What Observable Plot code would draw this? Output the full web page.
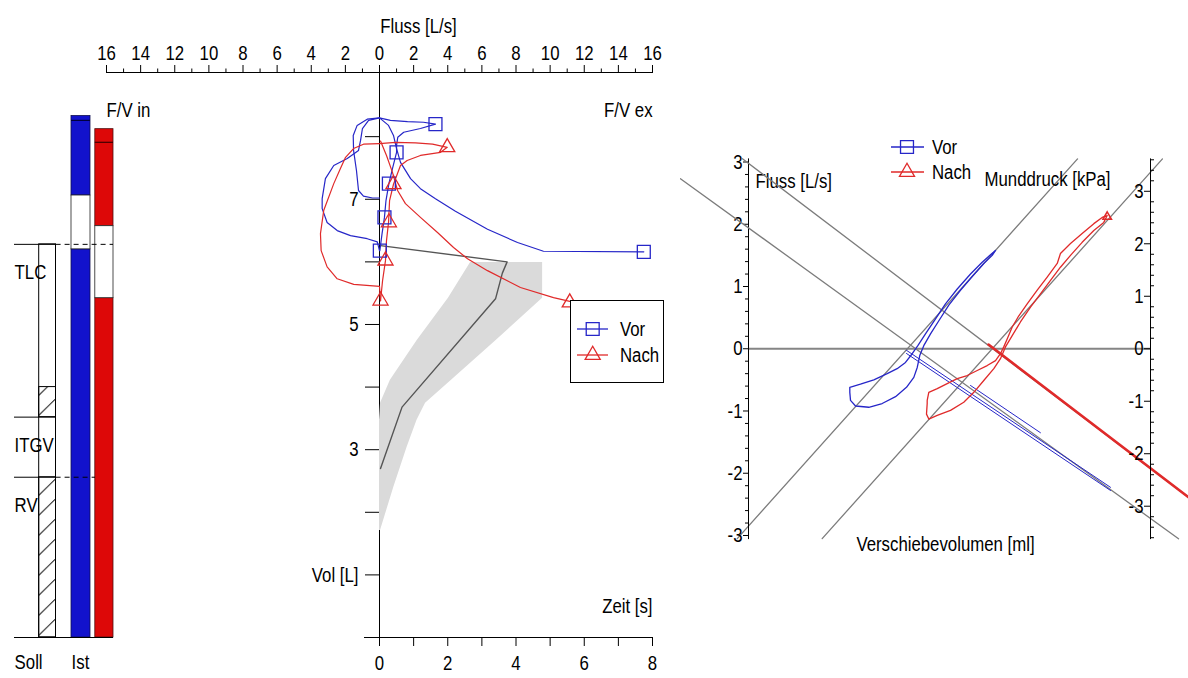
<!DOCTYPE html>
<html lang="de">
<head>
<meta charset="utf-8">
<title>Fluss-Volumen, Spirogramm und Resistance-Schleifen</title>
<script src="https://cdn.jsdelivr.net/npm/d3@7"></script>
<script src="https://cdn.jsdelivr.net/npm/@observablehq/plot@0.6"></script>
<style>
  html, body { margin: 0; padding: 0; background: #fff; }
  #page { position: relative; width: 1188px; height: 678px; overflow: hidden; background: #fff; }
  #page svg { position: absolute; top: 0; background: transparent !important; max-width: none !important; }
  #page svg.legend { overflow: visible; }
</style>
</head>
<body>
<div id="page"></div>
<script>
// ---------------- data ----------------
// lung volume columns (L)
const sollNames = ["TLC", "ITGV", "RV"];
const sollVolumes = [6.28, 3.52, 2.56];
const sollItgvUpper = 4.00;                 // upper edge of the hatched ITGV range
const columnNames = ["Soll", "Ist"];
const vorLevels = [6.20, 7.06, 8.33];       // lower block top, open block top, column top
const nachLevels = [5.42, 6.57, 8.12];
const vorCap = 8.26, nachCap = 7.91;

// axis ticks
const flowTicks = [-16, -14, -12, -10, -8, -6, -4, -2, 0, 2, 4, 6, 8, 10, 12, 14, 16];
const volTicks = [1, 2, 3, 4, 5, 6, 7, 8];
const timeTicks = [0, 1, 2, 3, 4, 5, 6, 7, 8];
const loopFlowTicks = [-3, -2, -1, 0, 1, 2, 3];
const mouthPressureTicks = [-3, -2, -1, 0, 1, 2, 3];

// flow-volume curves: [flow L/s, volume L]
const vorInspiration = [[0,6.18],[-0.13,6.32],[-0.72,6.37],[-1.70,6.42],[-2.48,6.50],[-3.07,6.63],[-3.36,6.85],[-3.36,7.01],[-3.17,7.33],[-2.68,7.54],[-1.89,7.65],[-1.23,7.78],[-1.11,7.94],[-1.00,8.13],[-0.64,8.26],[0,8.30]];
const vorInnerLoop = [[0,8.30],[-0.72,8.28],[-1.31,8.18],[-1.54,8.02],[-1.52,7.78],[-1.35,7.46],[-1.23,7.14],[-0.94,7.05],[-0.41,7.02],[0,7.02]];
const vorTopLobe = [[0,8.30],[0.64,8.26],[1.64,8.24],[2.58,8.23],[3.28,8.20],[2.40,8.13],[1.42,8.07],[1.07,7.99],[1.00,7.86],[1.00,7.75],[0.76,7.49],[0.55,7.25],[0.38,6.98],[0.29,6.71],[0.15,6.45],[0.02,6.18]];
const vorExpiration = [[0,8.30],[0.53,8.18],[0.82,8.02],[1.00,7.81],[1.23,7.59],[1.82,7.33],[2.40,7.17],[3.28,7.01],[4.45,6.81],[6.33,6.52],[8.09,6.31],[9.61,6.17],[15.49,6.16]];
const vorMarkers = [[3.28,8.20],[1.00,7.75],[0.55,7.25],[0.29,6.71],[0.02,6.18],[15.49,6.16]];

const nachInspiration = [[0,7.89],[-0.94,7.88],[-1.52,7.81],[-1.99,7.67],[-2.29,7.49],[-2.68,7.25],[-3.27,6.82],[-3.46,6.45],[-3.42,6.18],[-3.07,5.92],[-2.48,5.73],[-1.51,5.64],[0,5.61],[0.06,5.38]];
const nachTopLobe = [[0,7.89],[0.94,7.91],[2.11,7.90],[3.11,7.88],[3.97,7.83],[3.58,7.75],[2.40,7.70],[1.62,7.62],[1.23,7.54],[0.82,7.24],[0.59,6.98],[0.53,6.63],[0.41,6.34],[0.35,6.02],[0.18,5.70],[0.06,5.38]];
const nachExpiration = [[0.06,7.93],[0.41,7.70],[0.76,7.43],[1.06,7.14],[1.52,6.93],[2.40,6.71],[3.40,6.47],[4.34,6.23],[5.16,6.05],[6.33,5.86],[8.26,5.59],[10.20,5.43],[11.15,5.37]];
const nachMarkers = [[3.97,7.83],[0.82,7.24],[0.55,6.63],[0.35,6.02],[0.06,5.38],[11.15,5.35]];

// volume-time: measured curve and predicted range
const spiroTime = [0.03, 3.74, 3.60, 3.40, 0.66, 0.03];
const spiroVol  = [6.26, 6.00, 5.82, 5.41, 3.68, 2.70];
const bandVol  = [5.99, 5.42, 4.74, 4.11, 3.74, 3.47, 3.04, 2.40, 1.71];
const bandTMin = [2.67, 2.02, 1.10, 0.32, 0.03, 0, 0, 0, 0];
const bandTMax = [4.78, 4.78, 3.41, 2.11, 1.35, 1.10, 0.81, 0.42, 0.03];

// resistance loops: [shift volume ml, flow L/s]
const vorLoop = [[-9.92,-0.62],[-8.86,-0.57],[-7.53,-0.50],[-6.20,-0.40],[-5.21,-0.32],[-4.38,-0.22],[-3.71,-0.08],[-3.15,0.05],[-2.39,0.24],[-1.39,0.48],[-0.40,0.72],[0.77,0.96],[2.09,1.20],[3.25,1.39],[4.08,1.51],[4.58,1.58],[4.25,1.50],[3.41,1.37],[2.26,1.16],[1.09,0.94],[-0.07,0.70],[-1.06,0.45],[-1.89,0.24],[-2.56,0.05],[-2.96,-0.11],[-3.21,-0.30],[-3.55,-0.46],[-4.28,-0.62],[-5.37,-0.77],[-6.70,-0.88],[-8.03,-0.94],[-9.35,-0.92],[-9.85,-0.83],[-9.92,-0.70],[-9.92,-0.62]];
const nachLoop = [[-2.22,-0.83],[-2.06,-0.70],[-1.22,-0.64],[-0.23,-0.56],[0.77,-0.48],[1.76,-0.43],[2.76,-0.35],[3.75,-0.27],[4.58,-0.19],[5.07,-0.08],[5.40,0.03],[5.75,0.16],[6.24,0.35],[6.90,0.53],[7.73,0.72],[8.73,0.94],[9.72,1.15],[10.72,1.37],[11.04,1.53],[12.04,1.69],[13.20,1.85],[14.36,2.01],[15.19,2.11],[15.69,2.14],[15.35,2.03],[14.36,1.90],[13.20,1.71],[12.04,1.50],[11.04,1.31],[10.05,1.10],[9.05,0.88],[8.06,0.67],[7.06,0.43],[6.24,0.21],[5.57,0.03],[5.07,-0.16],[4.41,-0.32],[3.41,-0.51],[2.42,-0.70],[1.42,-0.86],[0.10,-0.99],[-1.22,-1.07],[-2.06,-1.13],[-2.29,-1.05],[-2.22,-0.88],[-2.22,-0.83]];
const nachLoopEnd = [[15.69,2.12]];
// fitted resistance lines: [shift volume ml, flow L/s]
const vorResistanceFit = [[-21.12,-3.05],[12.74,3.05]];
const nachResistanceFit = [[-12.67,-3.05],[21.19,3.05]];
// occlusion traces and fits: [shift volume ml, mouth pressure kPa]
const vorOcclusion = [[-4.28,-0.03],[16.02,-2.64]];
const vorOcclusion2 = [[-4.28,-0.09],[16.02,-2.70]];
const vorOcclusion3 = [[2.09,-0.70],[9.05,-1.60]];
const nachOcclusion = [[3.88,0.08],[23.78,-2.83]];
const vorPressureFit = [[-26.77,3.24],[22.79,-3.62]];
const nachPressureFit = [[-20.60,3.62],[23.78,-2.83]];

// ---------------- styling ----------------
const W = 1188, H = 678;
const FONT = `"Liberation Sans",Arial,sans-serif`;
const SQUEEZE = 0.8;   // narrow lettering
const BLUE = "#2626c8", RED = "#e02a2a", BAR_BLUE = "#1212cc", BAR_RED = "#dd0808";
const GREY_LINE = "#7c7c7c";
const baseStyle = {fontFamily: FONT, fontSize: "21px", background: "transparent", color: "black"};
const volDomain = [0, 9.025];
const volMargins = {marginTop: 72, marginBottom: 41};
const page = document.getElementById("page");
function place(svg, left) { svg.style.left = left + "px"; page.append(svg); return svg; }
const pairs = {x: d => d[0], y: d => d[1]};

// ---------------- lung volume columns ----------------
const TLC = sollVolumes[0], ITGV = sollVolumes[1], RV = sollVolumes[2];
const segs = (levels) => [
  {lo: 0, hi: levels[0], open: false},
  {lo: levels[0], hi: levels[1], open: true},
  {lo: levels[1], hi: levels[2], open: false}
];
const sollInset = {insetLeft: 24.7, insetRight: 0.5};
const vorInset = {insetRight: 23};
const nachInset = {insetLeft: 23.8};
const svgL = Plot.plot({
  width: 130, height: H, marginLeft: 14, marginRight: 17, ...volMargins,
  x: {type: "band", domain: columnNames, paddingInner: 0.27, paddingOuter: 0, axis: null},
  y: {domain: volDomain, axis: null},
  style: baseStyle,
  marks: [
    Plot.barY([{lo: 0, hi: RV}, {lo: ITGV, hi: sollItgvUpper}], {x: () => "Soll", y1: "lo", y2: "hi", fill: "url(#soll-hatch)", stroke: "black", ...sollInset}),
    Plot.barY([{lo: 0, hi: TLC}], {x: () => "Soll", y1: "lo", y2: "hi", fill: "none", stroke: "black", ...sollInset}),
    // measured columns
    Plot.barY(segs(vorLevels).filter(d => !d.open), {x: () => "Ist", y1: "lo", y2: "hi", fill: BAR_BLUE, stroke: "#101050", strokeWidth: 0.8, ...vorInset}),
    Plot.barY(segs(vorLevels).filter(d => d.open), {x: () => "Ist", y1: "lo", y2: "hi", fill: "white", stroke: "#222", strokeWidth: 0.8, ...vorInset}),
    Plot.barY(segs(nachLevels).filter(d => !d.open), {x: () => "Ist", y1: "lo", y2: "hi", fill: BAR_RED, stroke: "#501010", strokeWidth: 0.8, ...nachInset}),
    Plot.barY(segs(nachLevels).filter(d => d.open), {x: () => "Ist", y1: "lo", y2: "hi", fill: "white", stroke: "#222", strokeWidth: 0.8, ...nachInset}),
    Plot.tickY([vorCap], {x: () => "Ist", stroke: "#000040", strokeWidth: 1.2, ...vorInset}),
    Plot.tickY([nachCap], {x: () => "Ist", stroke: "#400000", strokeWidth: 1.2, ...nachInset}),
    // reference levels
    Plot.tickY([TLC, ITGV, RV], {x: () => "Soll", stroke: "black"}),
    Plot.tickY([TLC], {x: () => "Ist", insetLeft: -15.4, stroke: "black", strokeDasharray: "5,4"}),
    Plot.tickY([RV], {x: () => "Ist", insetLeft: -15.4, insetRight: 18, stroke: "black", strokeDasharray: "5,4"}),
    Plot.ruleY([0], {stroke: "black"}),
    Plot.text(sollNames.map((n, i) => ({n, v: sollVolumes[i]})), {x: () => "Soll", y: "v", text: "n", textAnchor: "start", dx: -20.9, dy: 28}),
    Plot.text(columnNames, {x: d => d, y: () => 0, text: d => d, textAnchor: "start", dx: -20.9, dy: 25})
  ]
});
place(svgL, 0);
{
  const colLeft = svgL.scale("x").apply("Soll") + sollInset.insetLeft;
  const colW = svgL.scale("x").bandwidth - sollInset.insetLeft - sollInset.insetRight;
  const base = svgL.scale("y").apply(0);
  const pat = d3.select(svgL).insert("defs", ":first-child").append("pattern")
    .attr("id", "soll-hatch").attr("patternUnits", "userSpaceOnUse")
    .attr("x", colLeft).attr("y", base).attr("width", colW + 0.5).attr("height", 20);
  pat.append("rect").attr("width", colW + 0.5).attr("height", 20).attr("fill", "white");
  pat.append("line").attr("x1", 0).attr("y1", 18.5).attr("x2", colW).attr("y2", 2)
    .attr("stroke", "black").attr("stroke-width", 1);
}

// ---------------- volume-time (spirogram) ----------------
const spiro = spiroTime.map((t, i) => ({t, v: spiroVol[i]}));
const band = bandVol.map((v, i) => ({v, lo: bandTMin[i], hi: bandTMax[i]}));
const volLabel = d => d === 1 ? "Vol [L]" : (d % 2 ? String(d) : "");
const svgT = Plot.plot({
  width: W, height: H, marginLeft: 379, marginRight: 536, ...volMargins,
  x: {domain: [0, 8]}, y: {domain: volDomain},
  style: baseStyle,
  marks: [
    Plot.ruleX([0], {stroke: "black"}),
    Plot.areaX(band, {y: "v", x1: "lo", x2: "hi", fill: "#dadada"}),
    Plot.line(spiro, {x: "t", y: "v", stroke: "#555", strokeWidth: 1.4}),
    Plot.axisY(volTicks, {anchor: "left", tickSize: 14, tickPadding: 7, tickFormat: volLabel, label: null}),
    Plot.ruleY([0], {insetLeft: -15, stroke: "black"}),
    Plot.axisX(timeTicks, {anchor: "bottom", tickSize: 9, tickPadding: 9, tickFormat: d => d % 2 ? "" : String(d), label: null}),
    Plot.text(["Zeit [s]"], {frameAnchor: "bottom-right", dy: -25, textAnchor: "end"})
  ]
});
place(svgT, 0);

// ---------------- flow-volume ----------------
const flowMinor = d3.range(-15, 16, 2);
const svgF = Plot.plot({
  width: W, height: H, marginLeft: 106, marginRight: 536, ...volMargins,
  x: {domain: [-16, 16]}, y: {domain: volDomain, axis: null},
  style: baseStyle,
  marks: [
    Plot.frame({anchor: "top", stroke: "black"}),
    Plot.axisX(flowMinor, {anchor: "top", tickSize: 4.5, tickFormat: () => "", label: null}),
    Plot.axisX(flowTicks, {anchor: "top", tickSize: 8, tickPadding: 5, tickFormat: d => String(Math.abs(d)), label: null}),
    Plot.text(["Fluss [L/s]"], {frameAnchor: "top", dx: 39, dy: -54}),
    Plot.text(["F/V in"], {frameAnchor: "top-left", dy: 30, textAnchor: "start"}),
    Plot.text(["F/V ex"], {frameAnchor: "top-right", dy: 30, textAnchor: "end"}),
    ...[vorInspiration, vorInnerLoop, vorTopLobe, vorExpiration].map(c => Plot.line(c, {...pairs, stroke: BLUE, strokeWidth: 1.2})),
    ...[nachInspiration, nachTopLobe, nachExpiration].map(c => Plot.line(c, {...pairs, stroke: RED, strokeWidth: 1.2})),
    Plot.dot(vorMarkers, {...pairs, symbol: "square", r: 7.3, stroke: BLUE, strokeWidth: 1.3, fill: "none"}),
    Plot.dot(nachMarkers, {...pairs, symbol: "triangle", r: 5.6, stroke: RED, strokeWidth: 1.3, fill: "none"})
  ]
});
place(svgF, 0);

// ---------------- resistance loops ----------------
const rightGeom = {width: 508, height: H, marginLeft: 68, marginRight: 38, marginTop: 158.4, marginBottom: 139.9};
const rx = {domain: [-20, 20], axis: null};
const minorOf = (lo, hi) => d3.range(Math.round(lo * 5), Math.round(hi * 5) + 1).map(k => k / 5).filter(v => Math.abs(v - Math.round(v)) > 1e-6);
const fmt = d => String(d);

// flow axis, zero line and fitted resistance lines
const svgR = Plot.plot({
  ...rightGeom, x: rx, y: {domain: [-3.05, 3.05], axis: null},
  style: baseStyle,
  marks: [
    Plot.ruleY([0], {stroke: "#858585", strokeWidth: 2}),
    Plot.line(vorResistanceFit, {...pairs, stroke: GREY_LINE, strokeWidth: 1.3}),
    Plot.line(nachResistanceFit, {...pairs, stroke: GREY_LINE, strokeWidth: 1.3}),
    Plot.frame({anchor: "left", stroke: "black"}),
    Plot.axisY(minorOf(-3, 3), {anchor: "left", tickSize: 3, tickFormat: () => "", label: null}),
    Plot.axisY(loopFlowTicks, {anchor: "left", tickSize: 5, tickPadding: 1, tickFormat: fmt, label: null}),
    Plot.text(["Fluss [L/s]"], {frameAnchor: "top-left", dx: 7, dy: 14, textAnchor: "start"}),
    Plot.text(["Munddruck [kPa]"], {frameAnchor: "top-right", dx: -40, dy: 12, textAnchor: "end"}),
    Plot.text(["Verschiebevolumen [ml]"], {frameAnchor: "bottom", dx: -4, dy: 12})
  ]
});
place(svgR, 680);

// mouth pressure axis, fitted occlusion lines and occlusion traces
const frameW = rightGeom.width - rightGeom.marginLeft - rightGeom.marginRight;
const svgP = Plot.plot({
  ...rightGeom, x: rx, y: {domain: [-3.617, 3.617], axis: null},
  style: baseStyle,
  marks: [
    Plot.line(vorPressureFit, {...pairs, stroke: GREY_LINE, strokeWidth: 1.3}),
    Plot.line(nachPressureFit, {...pairs, stroke: GREY_LINE, strokeWidth: 1.3}),
    Plot.line(vorOcclusion, {...pairs, stroke: BLUE, strokeWidth: 1}),
    Plot.line(vorOcclusion2, {...pairs, stroke: BLUE, strokeWidth: 1}),
    Plot.line(vorOcclusion3, {...pairs, stroke: BLUE, strokeWidth: 1}),
    Plot.line(nachOcclusion, {...pairs, stroke: RED, strokeWidth: 2.6}),
    Plot.frame({anchor: "right", stroke: "black"}),
    Plot.axisY(minorOf(-3.6, 3.6), {anchor: "right", tickSize: 3, tickFormat: () => "", label: null}),
    Plot.ruleY(mouthPressureTicks, {insetLeft: frameW - 6, stroke: "black"}),
    Plot.text(mouthPressureTicks, {y: d => d, text: fmt, frameAnchor: "right", dx: -7, textAnchor: "end"})
  ]
});
place(svgP, 680);

// the loops themselves, on top
const svgLoops = Plot.plot({
  ...rightGeom, x: rx, y: {domain: [-3.05, 3.05], axis: null},
  style: baseStyle,
  marks: [
    Plot.line(vorLoop, {...pairs, stroke: BLUE, strokeWidth: 1.3}),
    Plot.line(nachLoop, {...pairs, stroke: RED, strokeWidth: 1.3}),
    Plot.dot(nachLoopEnd, {...pairs, symbol: "triangle", r: 3.2, stroke: RED, fill: "none"})
  ]
});
place(svgLoops, 680);

// ---------------- legends ----------------
function legend({left, top, boxW, boxH, boxed, rows, lineX, markX, textX}) {
  const svg = d3.create("svg").attr("class", "legend").attr("width", boxW + 30).attr("height", boxH)
    .style("left", left + "px").style("top", top + "px")
    .style("font-family", FONT).style("font-size", "21px");
  if (boxed) svg.append("rect").attr("x", 0.5).attr("y", 0.5).attr("width", boxW - 1).attr("height", boxH - 1)
    .attr("fill", "white").attr("stroke", "black");
  for (const r of rows) {
    const g = svg.append("g").attr("transform", `translate(0,${r.y})`);
    g.append("line").attr("x1", lineX[0]).attr("x2", lineX[1]).attr("stroke", r.color).attr("stroke-width", 1.3);
    g.append("path").attr("d", d3.symbol(r.symbol, Math.PI * r.r * r.r)()).attr("transform", `translate(${markX},0)`)
      .attr("fill", "none").attr("stroke", r.color).attr("stroke-width", 1.3);
    g.append("text").attr("x", textX).attr("dy", "0.35em").text(r.label);
  }
  page.append(svg.node());
}
const legendRows = (y0, dy) => [
  {label: "Vor", color: BLUE, symbol: d3.symbolSquare, r: 7.3, y: y0},
  {label: "Nach", color: RED, symbol: d3.symbolTriangle, r: 5.6, y: y0 + dy}
];
legend({left: 570, top: 300, boxW: 94, boxH: 83, boxed: true, rows: legendRows(29, 26), lineX: [7, 38], markX: 22.7, textX: 50});
legend({left: 885, top: 132, boxW: 100, boxH: 56, boxed: false, rows: legendRows(15, 25), lineX: [6, 39], markX: 22, textX: 47});

// narrow lettering: scale every label horizontally about its anchor point
document.querySelectorAll("#page text").forEach(t => {
  if (!t.textContent) return;
  const b = t.getBBox();
  if (!b.width) return;
  const anchor = getComputedStyle(t).textAnchor;
  const ax = anchor === "end" ? b.x + b.width : anchor === "middle" ? b.x + b.width / 2 : b.x;
  const old = t.getAttribute("transform") || "";
  t.setAttribute("transform", `${old} translate(${ax.toFixed(2)},0) scale(${SQUEEZE},1) translate(${(-ax).toFixed(2)},0)`);
});
</script>
</body>
</html>
